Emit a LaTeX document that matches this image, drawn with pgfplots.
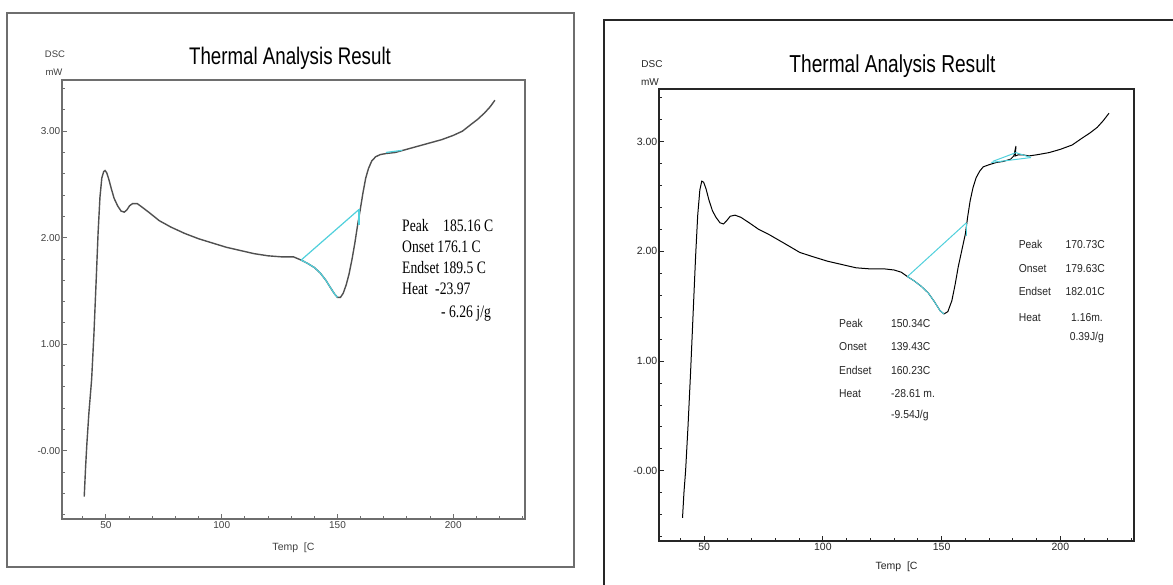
\documentclass[border=0pt]{standalone}
\usepackage{pgfplots}
\pgfplotsset{compat=1.18}
\usepackage{pgfplotstable}
\usepackage{graphicx}
\usepackage{fontspec}
\setmainfont{Liberation Sans}
\newfontfamily\seriffont{Liberation Serif}
\definecolor{cy}{RGB}{80,208,220}
\definecolor{lgray}{RGB}{80,80,80}
\definecolor{fgray}{RGB}{110,110,110}
\newcommand{\fs}[1]{\fontsize{#1}{#1}\selectfont}

\pgfplotstableread{
T D
40.6 -0.43
41.2 -0.15
41.7 0.05
42.6 0.35
43.8 0.67
44.8 1.10
45.8 1.62
46.6 2.05
47.4 2.38
48.2 2.56
49.0 2.62
49.6 2.63
50.3 2.61
51.2 2.55
52.3 2.46
53.5 2.37
55.0 2.30
56.5 2.25
57.9 2.24
59.0 2.26
60.2 2.30
61.5 2.32
63.5 2.32
66.0 2.28
69.0 2.23
73.0 2.16
78.0 2.10
84.0 2.04
90.0 1.99
96.0 1.95
102.0 1.91
108.0 1.88
114.0 1.85
120.0 1.83
126.0 1.82
131.0 1.82
134.3 1.79
137.0 1.76
140.0 1.72
142.5 1.67
145.0 1.60
147.0 1.53
148.8 1.47
150.0 1.44
151.3 1.44
152.5 1.48
153.8 1.56
155.0 1.66
156.3 1.80
157.5 1.95
158.7 2.12
159.8 2.26
161.0 2.42
162.2 2.56
163.4 2.65
164.8 2.72
166.5 2.76
168.5 2.78
171.0 2.79
175.0 2.80
180.0 2.83
185.0 2.86
190.0 2.89
195.0 2.92
200.0 2.96
204.0 3.00
207.5 3.06
210.5 3.11
213.5 3.17
216.0 3.23
218.0 3.29
}\leftdata

\pgfplotstableread{
T D
40.9 -0.43
41.5 -0.20
42.2 0.00
43.2 0.40
44.3 0.90
45.4 1.45
46.4 1.95
47.3 2.33
48.2 2.56
49.0 2.64
49.8 2.63
50.8 2.57
52.0 2.47
53.5 2.37
55.0 2.31
56.7 2.26
58.2 2.25
59.5 2.28
61.0 2.32
63.0 2.33
65.5 2.31
69.0 2.26
73.0 2.20
77.6 2.15
84.0 2.07
90.3 1.99
96.0 1.95
102.0 1.91
108.0 1.88
114.0 1.85
120.0 1.84
126.0 1.84
130.0 1.83
133.0 1.81
135.6 1.77
138.5 1.73
141.5 1.68
144.4 1.62
147.0 1.54
149.3 1.46
151.0 1.43
152.6 1.45
154.3 1.55
155.7 1.70
157.0 1.86
158.5 2.01
160.0 2.16
161.0 2.32
162.0 2.46
163.2 2.58
164.5 2.67
166.0 2.73
167.5 2.77
170.0 2.79
173.0 2.81
176.0 2.82
179.0 2.84
180.4 2.87
181.3 2.96
181.0 2.87
182.3 2.88
184.0 2.88
186.8 2.87
190.0 2.88
195.2 2.90
200.0 2.93
205.0 2.97
209.0 3.03
212.5 3.08
215.5 3.13
218.0 3.19
220.5 3.26
}\rightdata

\pgfplotsset{
  dscaxis/.style={
    scale only axis, anchor=south west,
    xmin=31, xmax=231, ymin=-0.64, ymax=3.48,
    xtick={50,100,150,200}, xticklabels={50,100,150,200},
    minor xtick={40,60,70,80,90,110,120,130,140,160,170,180,190,210,220,230},
    ytick={0,1,2,3}, yticklabels={-0.00,1.00,2.00,3.00},
    minor ytick={-0.6,-0.4,-0.2,0.2,0.4,0.6,0.8,1.2,1.4,1.6,1.8,2.2,2.4,2.6,2.8,3.2,3.4},
    tick pos=left,
    tick align=inside, major tick length=5pt, minor tick length=3pt,
    yticklabel style={inner sep=1.5pt},
    xticklabel style={inner sep=2pt},
  }
}

\begin{document}
\begin{tikzpicture}[x=1pt,y=1pt]
\useasboundingbox (0,0) rectangle (1173,585);
\fill[white] (0,0) rectangle (1173,585);
% frames
\draw[fgray, line width=2.8pt] (7,572) rectangle (574,18);
\draw[black!85, line width=1.3pt] (604,-5) -- (604,565) -- (1180,565);

% ---------- left panel ----------
\begin{axis}[dscaxis, at={(62pt,66pt)}, width=463pt, height=439pt,
  axis line style={fgray, line width=1.8pt},
  tick style={fgray, line width=1pt},
  ticklabel style={font=\fs{10}, text=black!75}]
\addplot[lgray, line width=1.4pt] table[x=T,y=D]{\leftdata};
\addplot[cy, line width=1.2pt] coordinates {(134.3,1.79) (159.3,2.265)};
\addplot[cy, line width=1.2pt] coordinates {(134.3,1.79)(137,1.76)(140,1.72)(142.5,1.67)(145,1.60)(147,1.53)(148.8,1.47)(150,1.44)};
\addplot[cy, line width=1.2pt] coordinates {(159.3,2.265)(159.3,2.12)};
\addplot[cy, line width=1.2pt] coordinates {(171,2.80)(178,2.82)};
\end{axis}
\node[font=\fs{24}] at (290,527) {\scalebox{0.78}[1]{Thermal Analysis Result}};
\node[font=\fs{9.5}, text=black!75] at (55,531) {DSC};
\node[font=\fs{9.5}, text=black!75] at (54,513) {mW};
\node[font=\fs{10.5}, text=black!75] at (293.5,37) {Temp\ \ [C};
\begin{scope}[font=\seriffont\fs{17.5}]
\node[anchor=base west, inner sep=0] at (402,353) {\scalebox{0.78}[1]{Peak}};
\node[anchor=base west, inner sep=0] at (443,353) {\scalebox{0.78}[1]{185.16 C}};
\node[anchor=base west, inner sep=0] at (402,332) {\scalebox{0.78}[1]{Onset 176.1 C}};
\node[anchor=base west, inner sep=0] at (402,311) {\scalebox{0.78}[1]{Endset 189.5 C}};
\node[anchor=base west, inner sep=0] at (402,290) {\scalebox{0.78}[1]{Heat}};
\node[anchor=base west, inner sep=0] at (435,290) {\scalebox{0.78}[1]{-23.97}};
\node[anchor=base west, inner sep=0] at (441,267) {\scalebox{0.78}[1]{- 6.26 j/g}};
\end{scope}

% ---------- right panel ----------
\begin{axis}[dscaxis, at={(659pt,44pt)}, width=475pt, height=452pt,
  axis line style={black!85, line width=1.3pt},
  tick style={black!85, line width=0.8pt},
  ticklabel style={font=\fs{10.5}, text=black!85}]
\addplot[black, line width=1pt] table[x=T,y=D]{\rightdata};
\addplot[cy, line width=1pt] coordinates {(135.6,1.77) (160.4,2.26)};
\addplot[cy, line width=1pt] coordinates {(135.6,1.77)(138.5,1.73)(141.5,1.68)(144.4,1.62)(147,1.54)(149.3,1.46)(151,1.43)};
\addplot[cy, line width=1pt] coordinates {(160.4,2.26)(160.4,2.14)};
\addplot[cy, line width=1pt] coordinates {(170.9,2.81)(187.6,2.855)};
\addplot[cy, line width=1pt] coordinates {(171.5,2.82)(181.3,2.90)(187.6,2.855)};
\end{axis}
\node[font=\fs{24.5}] at (892.5,519) {\scalebox{0.78}[1]{Thermal Analysis Result}};
\node[font=\fs{10}, text=black!85] at (652,521) {DSC};
\node[font=\fs{10}, text=black!85] at (650,503) {mW};
\node[font=\fs{10.5}, text=black!85] at (896.5,18) {Temp\ \ [C};
\begin{scope}[font=\fs{11.5}, text=black!85]
\node[anchor=base west, inner sep=0] at (839,257) {\scalebox{0.9}[1]{Peak}};
\node[anchor=base west, inner sep=0] at (891,257) {\scalebox{0.9}[1]{150.34C}};
\node[anchor=base west, inner sep=0] at (839,234.5) {\scalebox{0.9}[1]{Onset}};
\node[anchor=base west, inner sep=0] at (891,234.5) {\scalebox{0.9}[1]{139.43C}};
\node[anchor=base west, inner sep=0] at (839,210.5) {\scalebox{0.9}[1]{Endset}};
\node[anchor=base west, inner sep=0] at (891,210.5) {\scalebox{0.9}[1]{160.23C}};
\node[anchor=base west, inner sep=0] at (839,187.5) {\scalebox{0.9}[1]{Heat}};
\node[anchor=base west, inner sep=0] at (891,187.5) {\scalebox{0.9}[1]{-28.61 m.}};
\node[anchor=base west, inner sep=0] at (891,166.5) {\scalebox{0.9}[1]{-9.54J/g}};
\node[anchor=base west, inner sep=0] at (1018.6,336) {\scalebox{0.9}[1]{Peak}};
\node[anchor=base east, inner sep=0] at (1105,336) {\scalebox{0.9}[1]{170.73C}};
\node[anchor=base west, inner sep=0] at (1018.6,312.7) {\scalebox{0.9}[1]{Onset}};
\node[anchor=base east, inner sep=0] at (1105,312.7) {\scalebox{0.9}[1]{179.63C}};
\node[anchor=base west, inner sep=0] at (1018.6,289.3) {\scalebox{0.9}[1]{Endset}};
\node[anchor=base east, inner sep=0] at (1105,289.3) {\scalebox{0.9}[1]{182.01C}};
\node[anchor=base west, inner sep=0] at (1018.6,263.7) {\scalebox{0.9}[1]{Heat}};
\node[anchor=base east, inner sep=0] at (1103,263.7) {\scalebox{0.9}[1]{1.16m.}};
\node[anchor=base east, inner sep=0] at (1104,244.3) {\scalebox{0.9}[1]{0.39J/g}};
\end{scope}
\end{tikzpicture}
\end{document}
